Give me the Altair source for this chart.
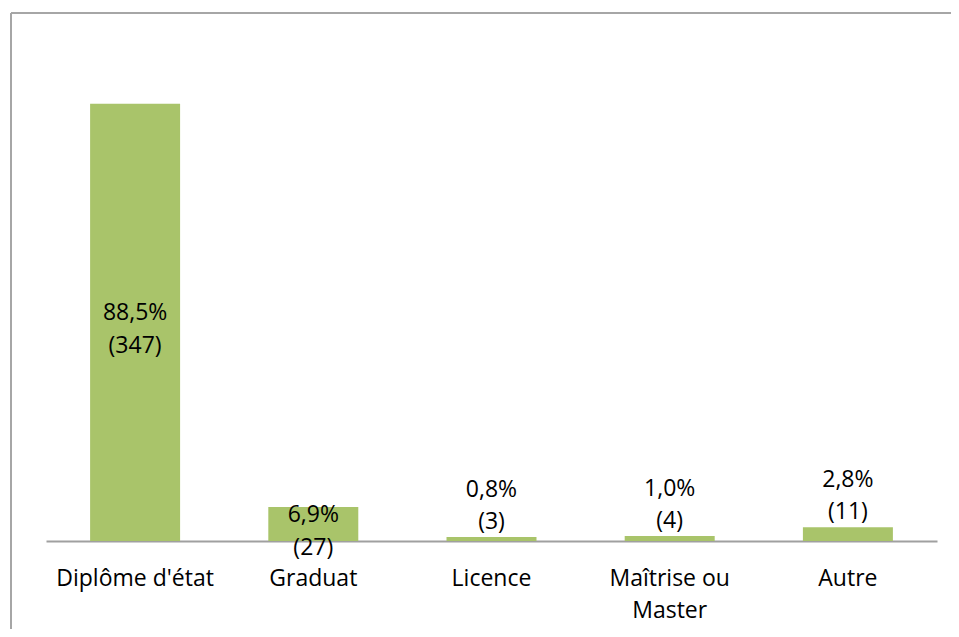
import altair as alt
import pandas as pd

categories = ["Diplôme d'état", "Graduat", "Licence", "Maîtrise ou\nMaster", "Autre"]
percents = [88.5, 6.9, 0.8, 1.0, 2.8]
counts = [347, 27, 3, 4, 11]

df = pd.DataFrame({"cat": categories, "pct": percents, "n": counts})

W, H = 891, 494
PAD = {"left": 38, "top": 39, "right": 14, "bottom": 88}
FONT = "Open Sans"
GREEN = "#A9C46A"
GRAY = "#A6A6A6"

x = alt.X("cat:N", sort=categories, title=None,
          scale=alt.Scale(paddingInner=0.495, paddingOuter=0.2475),
          axis=alt.Axis(labelAngle=0, ticks=False, tickSize=0, labelPadding=26,
                        labelFont=FONT, labelFontSize=23, labelColor="black",
                        labelLineHeight=32, labelLimit=300,
                        labelExpr="split(datum.label, '\\n')",
                        domainColor="#A0A0A0", domainWidth=2))
y_scale = alt.Scale(domain=[0, 100])

base = alt.Chart(df).transform_calculate(
    txt="[replace(format(datum.pct, '.1f'), '.', ',') + '%', '(' + datum.n + ')']"
)

bars = base.mark_bar(color=GREEN).encode(
    x=x,
    y=alt.Y("pct:Q", scale=y_scale, axis=None),
)

inside = base.transform_filter("datum.pct > 5").transform_calculate(
    ypos="datum.pct / 2"
).mark_text(font=FONT, fontSize=23, lineHeight=33, baseline="middle", dy=-9, color="black").encode(
    x=x,
    y=alt.Y("ypos:Q", scale=y_scale, axis=None),
    text="txt:N",
)

outside = base.transform_filter("datum.pct <= 5").mark_text(
    font=FONT, fontSize=23, lineHeight=32, baseline="middle", dy=-47, color="black"
).encode(
    x=x,
    y=alt.Y("pct:Q", scale=y_scale, axis=None),
    text="txt:N",
)

left_border = alt.Chart(df).mark_rule(color=GRAY, strokeWidth=2).encode(
    x=alt.value(-35), y=alt.value(-34), y2=alt.value(H + PAD["bottom"])
)
top_border = alt.Chart(df).mark_rule(color=GRAY, strokeWidth=2).encode(
    x=alt.value(-35), x2=alt.value(W + PAD["right"]), y=alt.value(-34)
)

chart = alt.layer(bars, inside, outside, left_border, top_border).properties(
    width=W, height=H,
    autosize=alt.AutoSizeParams(type="none"),
    padding=PAD,
    background="white",
).configure_view(stroke=None, strokeWidth=0)

chart.save("out.html", embed_options={"renderer": "svg", "actions": False})
